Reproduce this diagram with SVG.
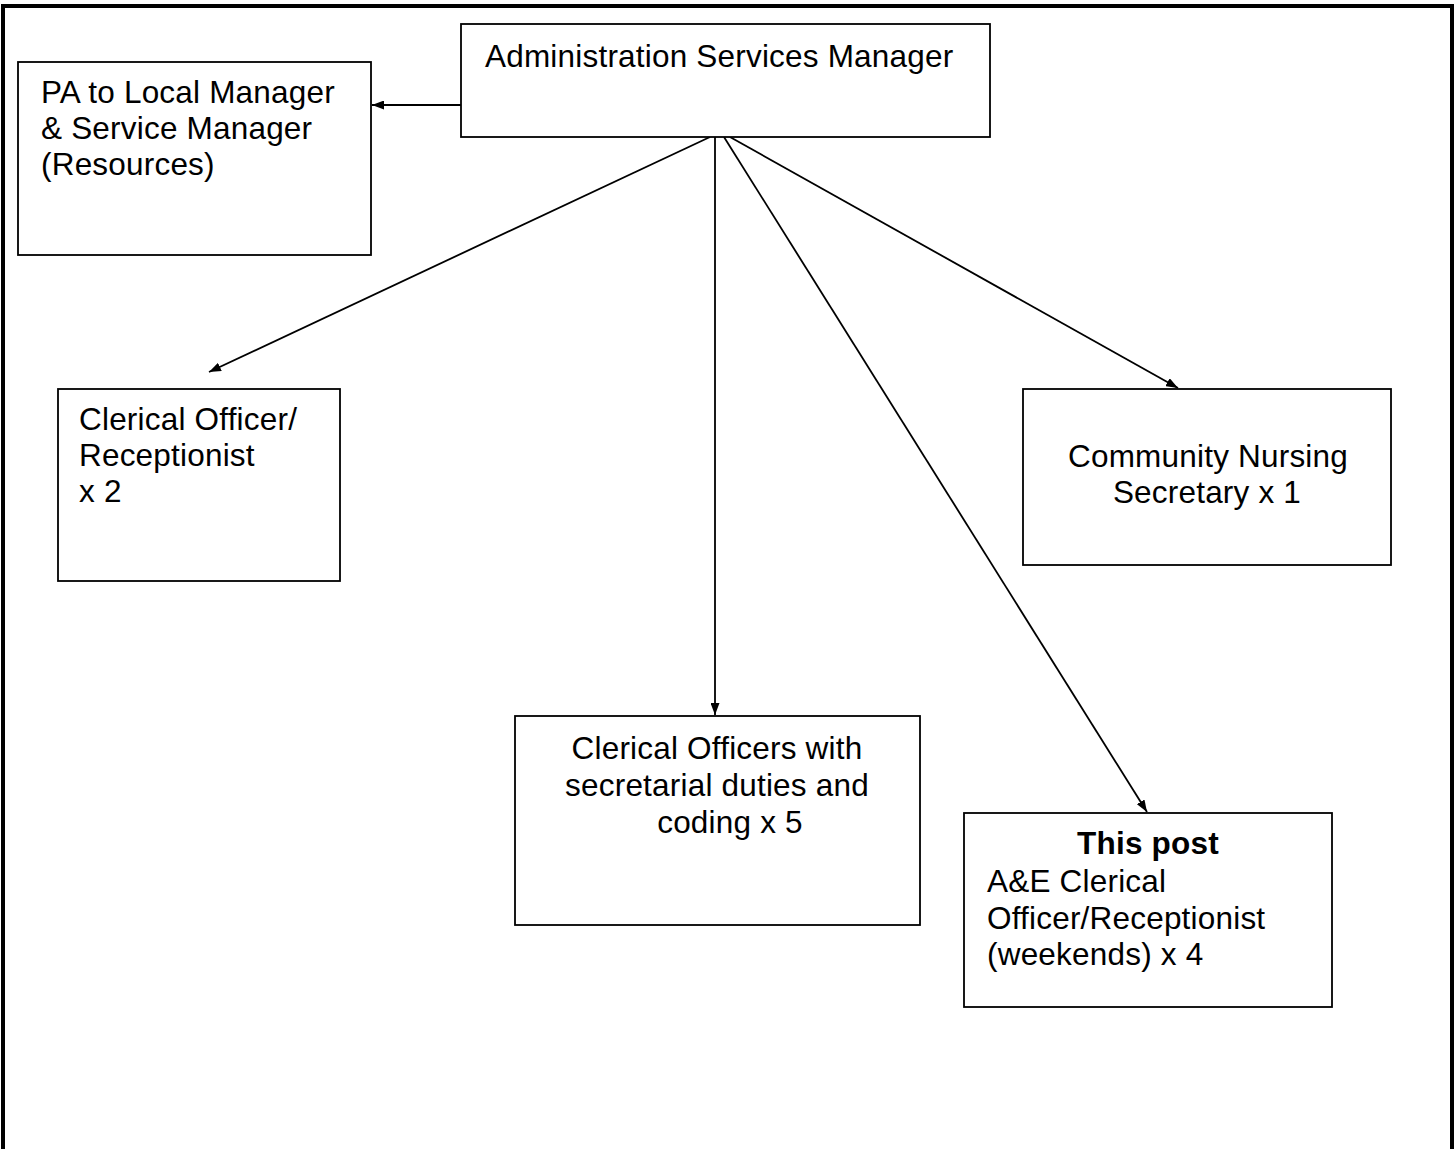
<svg xmlns="http://www.w3.org/2000/svg" width="1455" height="1149" viewBox="0 0 1455 1149">
<style>
.box{fill:#fff;stroke:#000;stroke-width:1.8}
.t{font-family:"Liberation Sans",Arial,sans-serif;font-size:31.5px;letter-spacing:0.2px;fill:#000}
.c{text-anchor:middle}
.b{font-weight:bold}
.conn line{stroke:#000;stroke-width:1.8}
</style>
<defs>
<marker id="ah" viewBox="0 0 12 9" refX="12" refY="4.5" markerWidth="12" markerHeight="9" markerUnits="userSpaceOnUse" orient="auto">
<path d="M0,0 L12,4.5 L0,9 Z" fill="#000"/>
</marker>
</defs>
<rect width="1455" height="1149" fill="#fff"/>
<g id="frame" fill="none" stroke="#000" stroke-width="4">
<path d="M3,1149 V6 H1452 V1149"/>
</g>
<g class="conn">
<line x1="461" y1="105" x2="372" y2="105" marker-end="url(#ah)"/>
<line x1="710" y1="137" x2="209" y2="372" marker-end="url(#ah)"/>
<line x1="715" y1="137" x2="715" y2="715" marker-end="url(#ah)"/>
<line x1="724" y1="137" x2="1147" y2="812" marker-end="url(#ah)"/>
<line x1="730" y1="137" x2="1178" y2="388" marker-end="url(#ah)"/>
</g>
<g id="asm">
<rect class="box" x="461" y="24" width="529" height="113"/>
<text class="t" x="485" y="67">Administration Services Manager</text>
</g>
<g id="pa">
<rect class="box" x="18" y="62" width="353" height="193"/>
<text class="t" x="41" y="103">PA to Local Manager</text>
<text class="t" x="41" y="139">&amp; Service Manager</text>
<text class="t" x="41" y="175">(Resources)</text>
</g>
<g id="cor">
<rect class="box" x="58" y="389" width="282" height="192"/>
<text class="t" x="79" y="430">Clerical Officer/</text>
<text class="t" x="79" y="466">Receptionist</text>
<text class="t" x="79" y="502">x 2</text>
</g>
<g id="cns">
<rect class="box" x="1023" y="389" width="368" height="176"/>
<text class="t c" x="1208" y="467">Community Nursing</text>
<text class="t c" x="1207" y="503">Secretary x 1</text>
</g>
<g id="cos">
<rect class="box" x="515" y="716" width="405" height="209"/>
<text class="t c" x="717" y="759">Clerical Officers with</text>
<text class="t c" x="717" y="796">secretarial duties and</text>
<text class="t c" x="730" y="833">coding x 5</text>
</g>
<g id="post">
<rect class="box" x="964" y="813" width="368" height="194"/>
<text class="t c b" x="1148" y="854">This post</text>
<text class="t" x="987" y="892">A&amp;E Clerical</text>
<text class="t" x="987" y="929">Officer/Receptionist</text>
<text class="t" x="987" y="965">(weekends) x 4</text>
</g>
</svg>
